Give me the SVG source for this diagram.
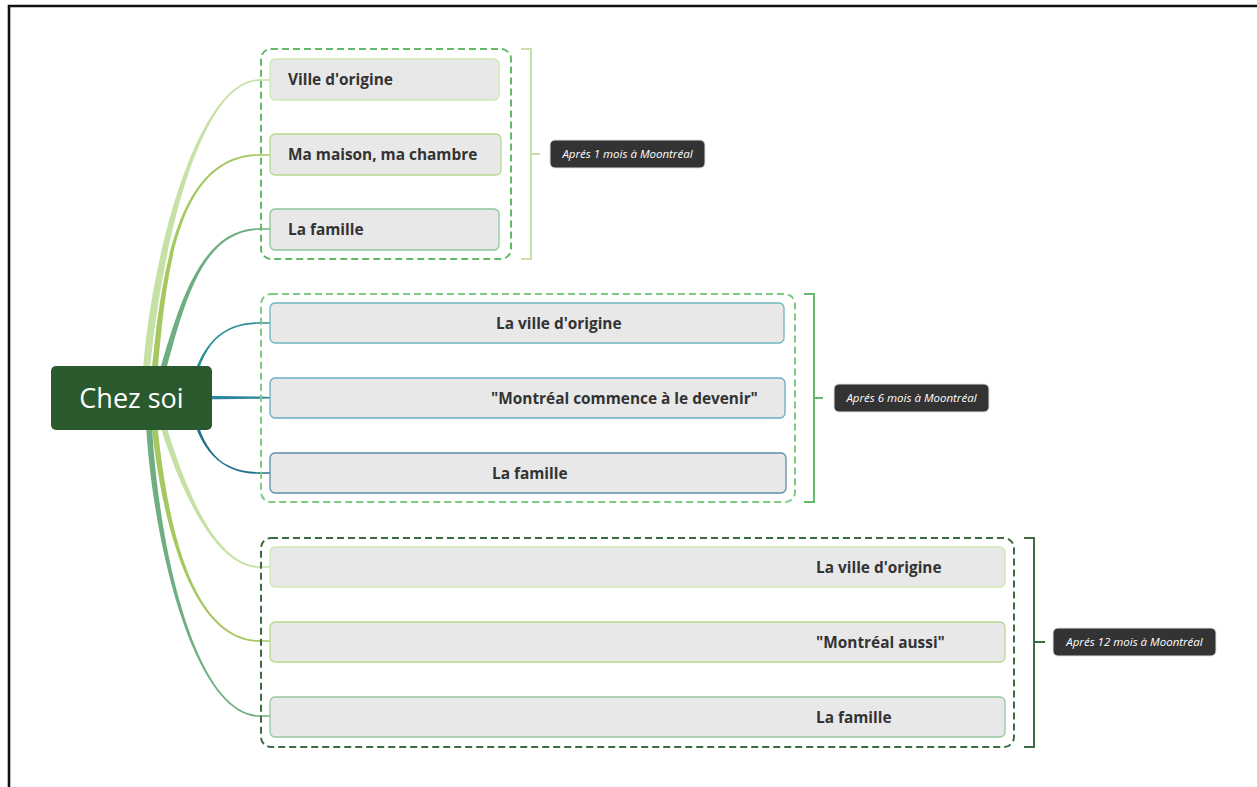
<svg xmlns="http://www.w3.org/2000/svg" width="1257" height="787" viewBox="0 0 1257 787">
<style>
.t{font-family:"Open Sans","Liberation Sans",sans-serif;font-weight:bold;font-size:15.4px;fill:#333333}
.box{fill:#e8e8e8;stroke-width:1.3}
.lab{fill:#333333;stroke:#e0e0e0;stroke-width:1}
.lt{font-family:"Open Sans","Liberation Sans",sans-serif;font-style:italic;font-size:11.5px;fill:#ffffff;text-anchor:middle}
.bnd{fill:none;stroke-width:2;stroke-dasharray:7 4}
.br{fill:none;stroke-width:2}
.tip{fill:none;stroke-width:1.5}
</style>
<rect width="1257" height="787" fill="#ffffff"/>
<path d="M9,787 V6 H1257" fill="none" stroke="#111111" stroke-width="2.6"/>

<g id="connectors">
  <!-- group 1 -->
  <path d="M148,398.1 C153,300.1 190,81.6 260,80.8 L260,79.2 C190,78.4 142,299.9 142,397.9 Z" fill="#c5e1a5"/>
  <path class="tip" d="M259,80 H270" stroke="#c5e1a5"/>
  <path d="M155,398.1 C165,300.1 168,156.6 260,155.8 L260,154.2 C168,153.4 159,299.9 149,397.9 Z" fill="#a5c860"/>
  <path class="tip" d="M259,155 H270" stroke="#a5c860"/>
  <path d="M158,398.6 C181,320.6 195,230.6 260,229.8 L260,228.2 C195,227.4 175,319.4 152,397.4 Z" fill="#6fae80"/>
  <path class="tip" d="M259,229 H270" stroke="#6fae80"/>
  <!-- group 2 -->
  <path d="M192,398 C202,338.5 225,324.6 260,323.8 L260,322.2 C225,321.4 198,341.5 188,398 Z" fill="#2a9294"/>
  <path class="tip" d="M259,323 H270" stroke="#2a9294"/>
  <path d="M200,395.8 L260,396.6 L270,397 V398.4 L260,398.8 L200,399.6 Z" fill="#2a88a0"/>
  <path d="M192,398 C202,457.5 225,471.4 260,472.2 L260,473.8 C225,474.6 198,454.5 188,398 Z" fill="#22708c"/>
  <path class="tip" d="M259,473 H270" stroke="#22708c"/>
  <!-- group 3 -->
  <path d="M158,397.3 C178,469.3 210,565.4 260,566.2 L260,567.8 C210,568.6 172,470.7 152,398.7 Z" fill="#c5e1a5"/>
  <path class="tip" d="M259,567 H270" stroke="#c5e1a5"/>
  <path d="M155,397.8 C163,499.8 185,639.4 260,640.2 L260,641.8 C185,642.6 157,500.2 149,398.2 Z" fill="#a5c860"/>
  <path class="tip" d="M259,641 H270" stroke="#a5c860"/>
  <path d="M151,398 C153,520 190,714.4 260,715.2 L260,716.8 C190,717.6 147,520 145,398 Z" fill="#6fae80"/>
  <path class="tip" d="M259,716 H270" stroke="#6fae80"/>
</g>

<g id="root">
  <rect x="51" y="366" width="161" height="64" rx="5" fill="#2c5a2f"/>
  <text x="131.5" y="407.5" text-anchor="middle" font-family="'Open Sans','Liberation Sans',sans-serif" font-size="27" fill="#ffffff">Chez soi</text>
</g>

<g id="group1">
  <rect class="bnd" x="261" y="49" width="250" height="210" rx="10" stroke="#63b967"/>
  <path class="br" d="M521,49 H531 V259 H521 M531,154 H540" stroke="#c5e1a5"/>
  <g id="g1-ville">
    <rect class="box" x="270" y="59" width="229" height="41" rx="5" stroke="#cfe7b4"/>
    <text class="t" x="288" y="85">Ville d'origine</text>
  </g>
  <g id="g1-maison">
    <rect class="box" x="270" y="134" width="231" height="41" rx="5" stroke="#b7d88c"/>
    <text class="t" x="288" y="160">Ma maison, ma chambre</text>
  </g>
  <g id="g1-famille">
    <rect class="box" x="270" y="209" width="229" height="41" rx="5" stroke="#8fc59c"/>
    <text class="t" x="288" y="235">La famille</text>
  </g>
  <g id="g1-label">
    <rect class="lab" x="550" y="140" width="155" height="28" rx="5"/>
    <text class="lt" x="627.5" y="158">Aprés 1 mois à Moontréal</text>
  </g>
</g>

<g id="group2">
  <rect class="bnd" x="261" y="294" width="534" height="208" rx="10" stroke="#7fcb82"/>
  <path class="br" d="M804,294 H814 V502 H804 M814,398 H823" stroke="#66bb6a"/>
  <g id="g2-ville">
    <rect class="box" x="270" y="303" width="514" height="40" rx="5" stroke="#6db6bc"/>
    <text class="t" x="496" y="329">La ville d'origine</text>
  </g>
  <g id="g2-montreal">
    <rect class="box" x="270" y="378" width="515" height="40" rx="5" stroke="#6aaac4"/>
    <text class="t" x="491" y="404">"Montréal commence à le devenir"</text>
  </g>
  <g id="g2-famille">
    <rect class="box" x="270" y="453" width="516" height="40" rx="5" stroke="#5b8ea5"/>
    <text class="t" x="492" y="479">La famille</text>
  </g>
  <g id="g2-label">
    <rect class="lab" x="834" y="384" width="155" height="28" rx="5"/>
    <text class="lt" x="911.5" y="402">Aprés 6 mois à Moontréal</text>
  </g>
</g>

<g id="group3">
  <rect class="bnd" x="261" y="538" width="753" height="209" rx="10" stroke="#3d6a40"/>
  <path class="br" d="M1024,538 H1034 V747 H1024 M1034,642 H1045" stroke="#3f6b43"/>
  <g id="g3-ville">
    <rect class="box" x="270" y="547" width="735" height="40" rx="5" stroke="#cfe7b4"/>
    <text class="t" x="816" y="573">La ville d'origine</text>
  </g>
  <g id="g3-montreal">
    <rect class="box" x="270" y="622" width="735" height="40" rx="5" stroke="#b7d88c"/>
    <text class="t" x="816" y="648">"Montréal aussi"</text>
  </g>
  <g id="g3-famille">
    <rect class="box" x="270" y="697" width="735" height="40" rx="5" stroke="#94c9a0"/>
    <text class="t" x="816" y="723">La famille</text>
  </g>
  <g id="g3-label">
    <rect class="lab" x="1053" y="628" width="163" height="28" rx="5"/>
    <text class="lt" x="1134.5" y="646">Aprés 12 mois à Moontréal</text>
  </g>
</g>
</svg>
